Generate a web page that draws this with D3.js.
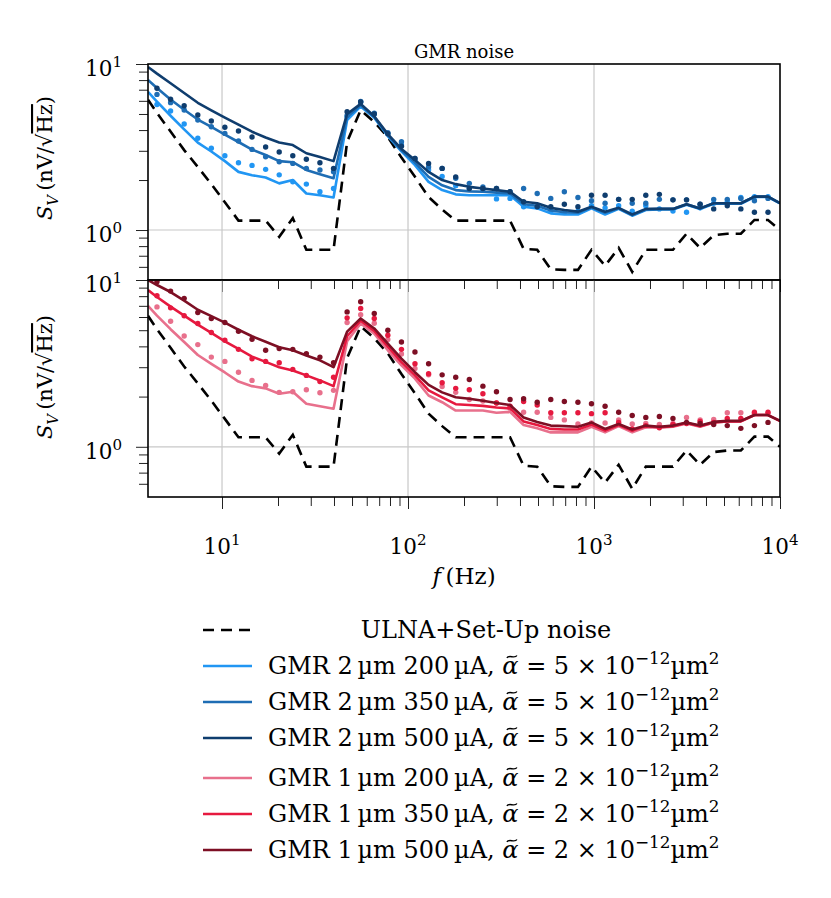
<!DOCTYPE html>
<html><head><meta charset="utf-8">
<script src="https://cdn.jsdelivr.net/npm/d3@7"></script>
<style>
body{margin:0;background:#fff}
text{font-family:"DejaVu Serif","Liberation Serif",serif;fill:#000}
</style>
</head><body>
<svg id="c" width="831" height="898"></svg>
<script>
// ---------- DATA ----------
// measurement frequencies (Hz)
const measFreq = [4.47,5.29,6.26,7.41,8.76,10.36,12.26,14.5,17.16,20.3,24.02,28.41,33.61,39.77,47.05,55.66,65.85,77.9,92.2,109,129,152.6,180.5,213.6,252.7,299,353.7,418.4,495,585.6,692.8,819.6,969.4,1147,1357,1605,1899,2246,2658,3144,3720,4401,5206,6159,7287,8620];
const startFreq = [4];
const endFreq = [10000];
// noise spectral density (nV/sqrt(Hz))
const ulnaNoise = [6.1,5.07,3.92,3.03,2.40,1.89,1.47,1.14,1.14,1.14,0.91,1.18,0.76,0.76,0.76,3.4,5.28,4.47,3.63,2.73,2.09,1.58,1.33,1.14,1.14,1.14,1.14,1.14,0.77,0.76,0.58,0.575,0.575,0.76,0.61,0.78,0.56,0.76,0.76,0.76,0.95,0.78,0.93,0.95,0.95,1.15,1.15,1.0];
// model curves, top panel (GMR 2 um)
const gmr2_200 = [6.8,5.94,4.88,4.04,3.36,2.97,2.60,2.24,2.14,2.07,1.91,2.0,1.66,1.62,1.57,4.6,5.55,4.75,3.68,2.98,2.46,1.95,1.74,1.64,1.62,1.62,1.62,1.62,1.38,1.35,1.26,1.24,1.24,1.35,1.24,1.34,1.22,1.32,1.33,1.33,1.42,1.34,1.44,1.44,1.44,1.58,1.58,1.45];
const gmr2_350 = [8.0,7.16,6.11,5.30,4.63,4.18,3.76,3.39,3.05,2.83,2.60,2.56,2.30,2.17,2.05,4.8,5.65,4.8,3.72,3.02,2.55,2.09,1.86,1.74,1.71,1.70,1.68,1.66,1.43,1.40,1.31,1.28,1.27,1.37,1.27,1.35,1.23,1.33,1.34,1.34,1.43,1.35,1.45,1.45,1.45,1.59,1.59,1.45];
const gmr2_500 = [9.6,8.75,7.66,6.69,5.84,5.26,4.76,4.31,3.91,3.61,3.37,3.25,2.90,2.75,2.60,5.0,5.75,4.85,3.78,3.08,2.64,2.24,2.0,1.89,1.82,1.78,1.74,1.70,1.48,1.45,1.36,1.32,1.29,1.38,1.29,1.36,1.24,1.34,1.34,1.34,1.43,1.35,1.45,1.45,1.45,1.59,1.59,1.45];
// measured points, top panel
const gmr2_200_meas = [5.7,5.21,4.35,3.57,3.11,2.80,2.54,2.45,2.32,2.15,1.95,1.89,1.70,1.78,4.8,5.9,5.0,3.8,3.25,2.6,2.3,2.1,1.85,1.78,1.75,1.54,1.55,1.38,1.38,1.30,1.28,1.30,1.40,1.36,1.40,1.30,1.40,1.34,1.30,1.28,1.36,1.45,1.48,1.57,1.59,1.59];
const gmr2_350_meas = [6.56,5.85,5.28,4.60,4.19,3.82,3.44,3.06,2.76,2.58,2.52,2.35,2.30,2.24,4.9,5.95,5.05,3.85,3.40,2.70,2.40,2.35,2.05,1.91,1.82,1.78,1.70,1.78,1.66,1.55,1.70,1.57,1.50,1.45,1.53,1.45,1.45,1.53,1.52,1.52,1.43,1.53,1.53,1.55,1.50,1.55];
const gmr2_500_meas = [7.14,6.13,5.61,4.93,4.54,4.16,3.95,3.63,3.16,2.95,2.80,2.67,2.54,2.35,5.16,5.9,5.0,3.8,3.2,2.7,2.52,2.35,2.09,1.78,1.78,1.78,1.70,1.48,1.38,1.38,1.43,1.38,1.62,1.62,1.53,1.53,1.62,1.64,1.52,1.52,1.43,1.34,1.40,1.34,1.28,1.28];
// model curves, bottom panel (GMR 1 um)
const gmr1_200 = [7.0,6.11,5.07,4.25,3.55,3.14,2.79,2.46,2.31,2.24,2.08,2.14,1.81,1.75,1.69,4.3,5.48,4.77,3.79,3.08,2.56,2.03,1.85,1.65,1.65,1.65,1.60,1.62,1.35,1.29,1.22,1.22,1.22,1.32,1.22,1.33,1.22,1.31,1.30,1.32,1.38,1.32,1.40,1.42,1.42,1.55,1.55,1.43];
const gmr1_350 = [8.71,7.91,6.92,6.11,5.40,4.82,4.29,3.86,3.47,3.23,3.0,2.87,2.68,2.50,2.31,4.6,5.7,4.95,3.98,3.22,2.68,2.18,1.98,1.80,1.78,1.76,1.72,1.70,1.42,1.35,1.28,1.27,1.27,1.36,1.25,1.35,1.25,1.33,1.31,1.33,1.39,1.33,1.40,1.42,1.42,1.55,1.55,1.43];
const gmr1_500 = [10.0,9.33,8.47,7.52,6.63,6.07,5.55,5.03,4.60,4.26,3.95,3.79,3.53,3.30,3.0,4.9,5.88,5.12,4.16,3.38,2.80,2.35,2.12,1.98,1.94,1.89,1.83,1.78,1.50,1.41,1.34,1.33,1.32,1.40,1.28,1.37,1.27,1.34,1.32,1.34,1.40,1.34,1.41,1.43,1.43,1.55,1.55,1.43];
// measured points, bottom panel
const gmr1_200_meas = [6.90,5.66,4.62,4.10,3.45,3.25,2.80,2.50,2.33,2.12,2.14,2.20,2.11,2.18,5.56,6.2,5.5,4.4,3.6,2.95,2.70,2.30,2.12,1.92,1.88,1.83,1.70,1.61,1.61,1.50,1.45,1.37,1.39,1.39,1.45,1.37,1.38,1.36,1.38,1.50,1.45,1.46,1.60,1.60,1.58,1.58];
const gmr1_350_meas = [8.04,6.81,6.10,5.48,4.84,4.35,3.84,3.37,3.25,3.19,2.91,2.68,2.46,2.61,5.93,6.75,5.88,4.66,3.84,3.15,2.74,2.42,2.24,2.20,2.08,1.83,1.75,1.87,1.78,1.60,1.60,1.60,1.58,1.60,1.40,1.28,1.34,1.30,1.36,1.38,1.42,1.40,1.48,1.48,1.61,1.61];
const gmr1_500_meas = [9.77,8.58,7.76,6.39,5.88,5.56,4.93,4.41,3.79,3.88,3.84,3.62,3.45,3.19,6.44,7.40,6.3,5.0,4.25,3.70,3.15,2.70,2.61,2.53,2.31,2.14,1.92,1.94,1.85,1.92,1.87,1.85,1.81,1.75,1.61,1.54,1.50,1.52,1.48,1.40,1.38,1.36,1.34,1.29,1.34,1.40];
// axes
const xMajorTicks = [10,100,1000,10000];
const xMinorTicks = [20,30,40,50,60,70,80,90,200,300,400,500,600,700,800,900,2000,3000,4000,5000,6000,7000,8000,9000];
const yMajorTicks = [1,10];
const yMinorTicks = [0.6,0.7,0.8,0.9,2,3,4,5,6,7,8,9];
const sensorSizes = ["2","2","2","1","1","1"];
const currents = ["200","350","500","200","350","500"];
const alphas = ["5","5","5","2","2","2"];
const colors = ["#2196f3","#1e6db4","#0f3d6e","#e8708c","#e6193f","#7d0f24"];

// ---------- DRAW ----------
const svg = d3.select('#c');
const L = 148, R = 780;
const lineFreq = startFreq.concat(measFreq, endFreq);
const x = d3.scaleLog().domain([4, 10000]).range([L, R]);
const FS = 24, TFS = 21.5;

function rich(sel, parts, base){
  let shift = 0;
  parts.forEach(p => {
    const ts = sel.append('tspan').text(p.t);
    const target = p.sup ? -0.42 : (p.sub ? 0.28 : 0);
    const dy = target - shift;
    if (dy !== 0) ts.attr('dy', (dy * base) + 'px');
    shift = target;
    if (p.sup || p.sub) ts.attr('font-size', base * 0.7);
    if (p.it) ts.attr('font-style', 'italic');
    if (p.over) ts.style('text-decoration', 'overline');
  });
}

const panels = [
  {top: 64, bottom: 280, lines: [gmr2_200, gmr2_350, gmr2_500], dots: [gmr2_200_meas, gmr2_350_meas, gmr2_500_meas], cols: colors.slice(0,3), id: 'p0'},
  {top: 280, bottom: 497, lines: [gmr1_200, gmr1_350, gmr1_500], dots: [gmr1_200_meas, gmr1_350_meas, gmr1_500_meas], cols: colors.slice(3), id: 'p1'}
];

panels.forEach((p, pi) => {
  const y = d3.scaleLog().domain([0.5, 10]).range([p.bottom, p.top]);
  const g = svg.append('g');
  g.selectAll('.gx').data([10,100,1000]).enter().append('line')
    .attr('x1', d => x(d)).attr('x2', d => x(d)).attr('y1', p.top).attr('y2', p.bottom)
    .attr('stroke', '#c8c8c8').attr('stroke-width', 1.2);
  g.append('line').attr('x1', L).attr('x2', R).attr('y1', y(1)).attr('y2', y(1))
    .attr('stroke', '#c8c8c8').attr('stroke-width', 1.2);
  svg.append('clipPath').attr('id', p.id).append('rect')
    .attr('x', L).attr('y', p.top).attr('width', R - L).attr('height', p.bottom - p.top);
  const pg = g.append('g').attr('clip-path', `url(#${p.id})`);
  const line = d3.line().x((d, i) => x(lineFreq[i])).y(d => y(d));
  pg.append('path').datum(ulnaNoise).attr('d', line).attr('fill', 'none')
    .attr('stroke', '#000').attr('stroke-width', 2.6).attr('stroke-dasharray', '11,7');
  p.lines.forEach((s, si) => {
    pg.append('path').datum(s).attr('d', line).attr('fill', 'none')
      .attr('stroke', p.cols[si]).attr('stroke-width', 2.6).attr('stroke-linejoin', 'round');
    pg.selectAll(null).data(p.dots[si]).enter().append('circle')
      .attr('cx', (d, i) => x(measFreq[i])).attr('cy', d => y(d)).attr('r', 2.7)
      .attr('fill', p.cols[si]);
  });
  const ga = svg.append('g').attr('transform', `translate(${L},0)`);
  ga.append('g').call(d3.axisLeft(y).tickValues(yMinorTicks).tickSize(9).tickFormat(''));
  ga.append('g').call(d3.axisLeft(y).tickValues(yMajorTicks).tickSize(12).tickFormat(''));
  ga.selectAll('.domain').remove();
  ga.selectAll('.tick line').attr('stroke', '#222').attr('stroke-width', 1);
  yMajorTicks.forEach(v => {
    const t = svg.append('text').attr('x', 122).attr('y', y(v) + 12).attr('text-anchor', 'end').attr('font-size', TFS);
    rich(t, [{t: '10'}, {t: String(Math.round(Math.log10(v))), sup: true}], TFS);
  });
  const gx = svg.append('g').attr('transform', `translate(0,${p.bottom})`);
  gx.append('g').call(d3.axisBottom(x).tickValues(xMinorTicks).tickSize(9).tickFormat(''));
  gx.append('g').call(d3.axisBottom(x).tickValues(xMajorTicks).tickSize(12).tickFormat(''));
  gx.selectAll('.domain').remove();
  gx.selectAll('.tick line').attr('stroke', '#222').attr('stroke-width', 1);
  svg.append('rect').attr('x', L).attr('y', p.top).attr('width', R - L).attr('height', p.bottom - p.top)
    .attr('fill', 'none').attr('stroke', '#000').attr('stroke-width', 1.6);
  const cy = pi === 0 ? 158 : 377;
  const yl = svg.append('text').attr('transform', `translate(52,${cy}) rotate(-90)`)
    .attr('text-anchor', 'middle').attr('font-size', 21);
  rich(yl, [{t: 'S', it: true}, {t: 'V', it: true, sub: true}, {t: '\u2009(nV/\u221A'}, {t: 'Hz', over: true}, {t: ')'}], 21);
});

xMajorTicks.forEach(v => {
  const t = svg.append('text').attr('x', x(v)).attr('y', 554).attr('text-anchor', 'middle').attr('font-size', TFS);
  rich(t, [{t: '10'}, {t: String(Math.round(Math.log10(v))), sup: true}], TFS);
});
const xl = svg.append('text').attr('x', 464).attr('y', 584).attr('text-anchor', 'middle').attr('font-size', 23);
rich(xl, [{t: 'f', it: true}, {t: '\u2009(Hz)'}], 23);

svg.append('text').attr('x', 464).attr('y', 58).attr('text-anchor', 'middle').attr('font-size', 18).text('GMR noise');

// legend
const legY = [630, 666, 702, 738, 778, 814, 850];
svg.append('line').attr('x1', 203).attr('x2', 252).attr('y1', legY[0]).attr('y2', legY[0])
  .attr('stroke', '#000').attr('stroke-width', 2.6).attr('stroke-dasharray', '11,7');
svg.append('text').attr('x', 486).attr('y', legY[0] + 8).attr('text-anchor', 'middle').attr('font-size', FS)
  .text('ULNA+Set-Up noise');
colors.forEach((c, i) => {
  const yy = legY[i + 1];
  svg.append('line').attr('x1', 203).attr('x2', 252).attr('y1', yy).attr('y2', yy)
    .attr('stroke', c).attr('stroke-width', 2.6);
  const t = svg.append('text').attr('x', 268).attr('y', yy + 8).attr('font-size', FS);
  const first = `GMR ${sensorSizes[i]}\u2009\u00B5m ${currents[i]}\u2009\u00B5A, `;
  rich(t, [
    {t: first},
    {t: '\u03B1', it: true},
    {t: ` = ${alphas[i]} \u00D7 10`},
    {t: '\u221212', sup: true},
    {t: '\u00B5m'},
    {t: '2', sup: true}
  ], FS);
  const ext = t.node().getExtentOfChar(first.length);
  const cx = ext.x + ext.width / 2 + 1.5, ty = yy + 8 - FS * 0.72;
  svg.append('path')
    .attr('d', `M${cx-5},${ty+1.2} C${cx-3},${ty-2.6} ${cx+3},${ty+2.6} ${cx+5},${ty-1.2}`)
    .attr('fill', 'none').attr('stroke', '#000').attr('stroke-width', 1.4);
});
</script>
</body></html>
